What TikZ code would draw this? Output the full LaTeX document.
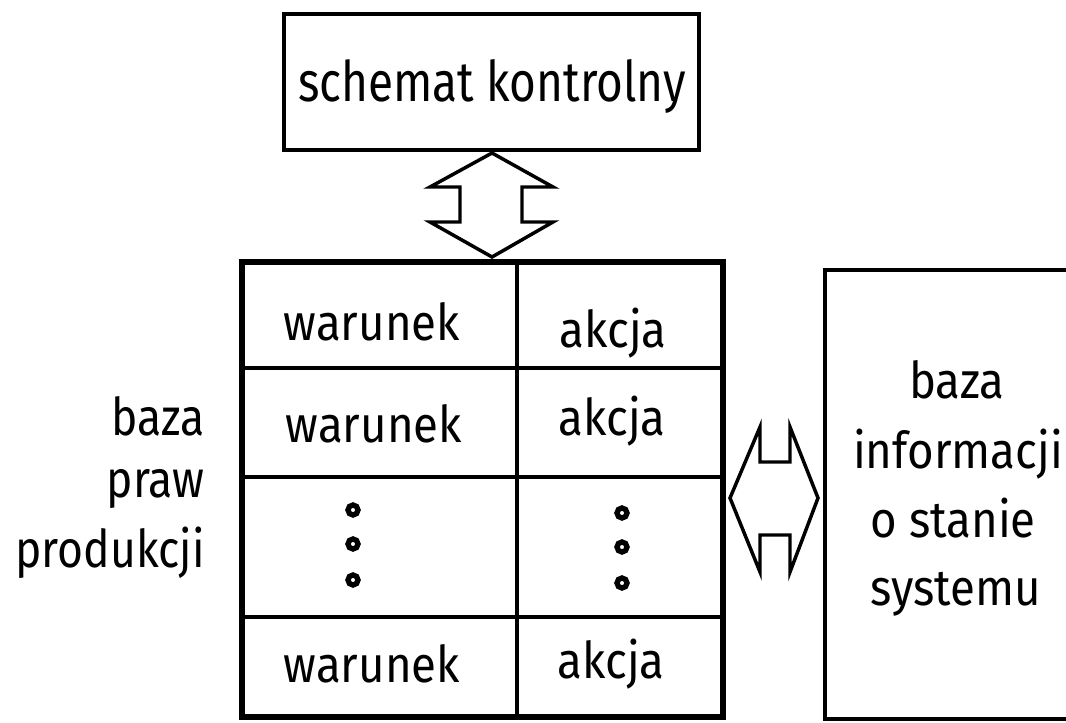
\documentclass[tikz,border=0pt]{standalone}
\usepackage{fontspec}
\setmainfont{Fira Sans}
\newfontfamily\lblfont[FakeStretch=0.9]{Fira Sans}
\newfontfamily\sidefont[FakeStretch=0.855]{Fira Sans}
\newfontfamily\topfont[FakeStretch=0.82]{Fira Sans}
\begin{document}
\begin{tikzpicture}[x=0.75pt,y=-0.75pt,
  frame/.style={draw=black,line width=3pt},
  cell/.style={draw=black,line width=3pt},
  dbl/.style={draw=black,line width=2.6pt,line join=miter,fill=white},
  txt/.style={anchor=base,inner sep=0pt,font=\lblfont\fontsize{38pt}{46pt}\selectfont},
  lft/.style={anchor=base east,inner sep=0pt,font=\sidefont\fontsize{39pt}{46pt}\selectfont},
  dotc/.style={draw=black,line width=4pt,circle,minimum size=7.5pt,inner sep=0pt}]
\useasboundingbox (0,0) rectangle (1066,723);
\clip (0,0) rectangle (1066,723);
% top box
\node[frame,minimum width=415*0.75pt,minimum height=136*0.75pt,inner sep=0pt] (ctrl) at (491,82.5) {};
\node[anchor=base,inner sep=0pt,font=\topfont\fontsize{42pt}{50pt}\selectfont] (ctrlt) at (492,102) {schemat kontrolny};
% table
\coordinate (tl) at (242,262);
\coordinate (br) at (723,717);
\draw[cell] (242,368) -- (723,368);
\draw[cell] (242,477) -- (723,477);
\draw[cell] (242,617) -- (723,617);
\draw[cell] (517,262) -- (517,717);
\draw[draw=black,line width=4.5pt] (tl) rectangle (br);
\node[txt] (w1) at (372,340) {warunek};
\node[txt] (a1) at (613,347) {akcja};
\node[txt] (w2) at (374,442) {warunek};
\node[txt] (a2) at (612,435) {akcja};
\node[txt] (w4) at (372,682) {warunek};
\node[txt] (a4) at (611,678) {akcja};
\node[dotc] (d1) at (353,510) {};
\node[dotc] (d2) at (353,544) {};
\node[dotc] (d3) at (353,580) {};
\node[dotc] (d4) at (622,513) {};
\node[dotc] (d5) at (622,547) {};
\node[dotc] (d6) at (622,583) {};
% left label
\node[lft] (l1) at (205,435) {baza};
\node[lft] (l2) at (205,497) {praw};
\node[lft] (l3) at (205,567) {produkcji};
% right box
\draw[frame] (1090,270) -- (825,270) -- (825,719) -- (1090,719);
\node[txt] (r1) at (957,398) {baza};
\node[txt] (r2) at (958,468) {informacji};
\node[txt] (r3) at (953,537) {o stanie};
\node[txt] (r4) at (956,605) {systemu};
% vertical double arrow
\coordinate (vt) at (492,153);
\coordinate (vb) at (492,257);
\draw[dbl] (vt) -- (553,187) -- (522,187) -- (522,222) -- (553,222) -- (vb)
  -- (430,222) -- (460,222) -- (460,187) -- (430,187) -- cycle;
% horizontal double arrow
\coordinate (hl) at (730,498);
\coordinate (hr) at (818,498);
\draw[dbl] (hl) -- (760,427) -- (760,462) -- (790,462) -- (790,427) -- (hr)
  -- (790,572) -- (790,535) -- (760,535) -- (760,572) -- cycle;
\end{tikzpicture}
\end{document}
